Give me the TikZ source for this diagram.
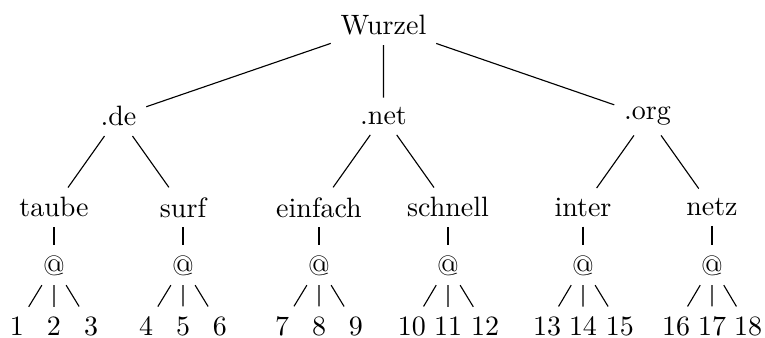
\documentclass[tikz,border=0pt]{standalone}
\begin{document}
\begin{tikzpicture}[x=0.35714pt,y=-0.35714pt, lbl/.style={inner sep=3.333pt}, conn/.style={draw, line width=0.4pt}]
\useasboundingbox (0,0) rectangle (765,338);
\node[lbl] (w) at (383.5,25.3) {Wurzel};
\node[lbl] (de) at (118.5,116.3) {.de};
\node[lbl] (net) at (383.5,116.3) {.net};
\node[lbl] (org) at (647.5,116.3) {.org};
\node[lbl] (taube) at (54,207.3) {taube};
\node[lbl] (surf) at (183,207.3) {surf};
\node[lbl] (einfach) at (319,207.3) {einfach};
\node[lbl] (schnell) at (448,207.3) {schnell};
\node[lbl] (inter) at (583,207.3) {inter};
\node[lbl] (netz) at (712,207.3) {netz};
\foreach \n/\x in {a/54,b/183,c/319,d/448,e/583,f/712}{
  \node[lbl] (at\n) at (\x,265.3) {@};
}
\foreach \i/\x in {1/17,2/54,3/91,4/146,5/183,6/220,7/282,8/319,9/356,10/412,11/448,12/485,13/547,14/583,15/620,16/676,17/712,18/748}{
  \node[lbl] (l\i) at (\x,326) {\i};
}
\path[conn] (w) -- (de) (w) -- (net) (w) -- (org);
\path[conn] (de) -- (taube) (de) -- (surf) (net) -- (einfach) (net) -- (schnell) (org) -- (inter) (org) -- (netz);
\path[conn] (taube) -- (ata) (surf) -- (atb) (einfach) -- (atc) (schnell) -- (atd) (inter) -- (ate) (netz) -- (atf);
\path[conn] (ata) -- (l1) (ata) -- (l2) (ata) -- (l3)
  (atb) -- (l4) (atb) -- (l5) (atb) -- (l6)
  (atc) -- (l7) (atc) -- (l8) (atc) -- (l9)
  (atd) -- (l10) (atd) -- (l11) (atd) -- (l12)
  (ate) -- (l13) (ate) -- (l14) (ate) -- (l15)
  (atf) -- (l16) (atf) -- (l17) (atf) -- (l18);
\end{tikzpicture}
\end{document}
